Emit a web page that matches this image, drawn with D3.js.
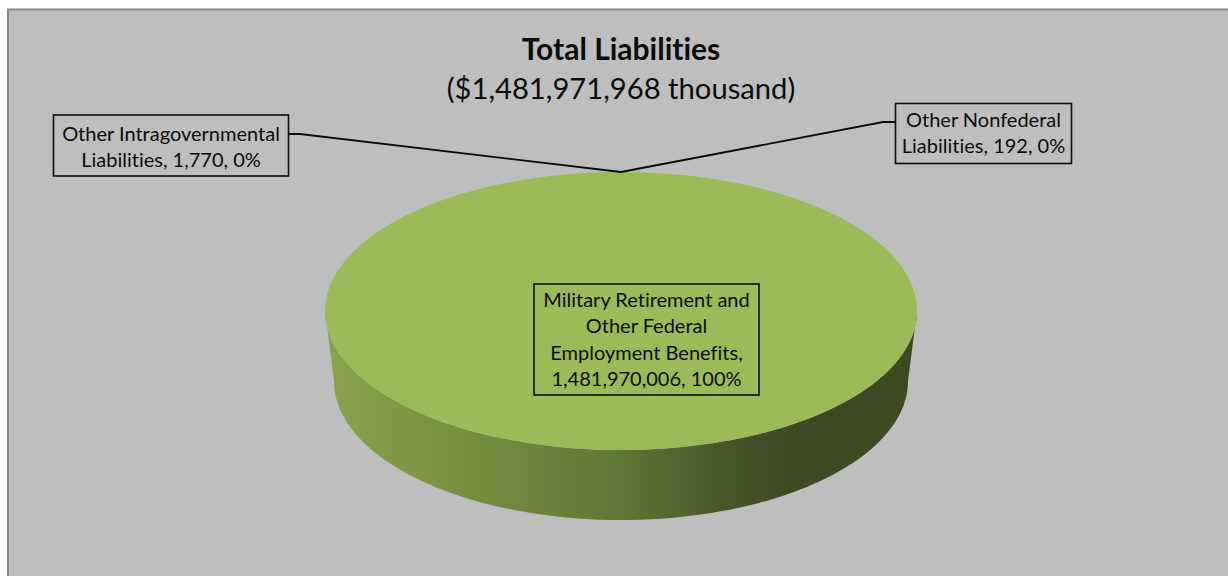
<!DOCTYPE html>
<html>
<head>
	<meta charset="UTF-8">
	<title>Total Liabilities</title>
	<script src="https://cdn.jsdelivr.net/npm/d3@7"></script>
	<style>
		html, body { margin: 0; padding: 0; background: #fff; overflow: hidden; }
		text { font-family: Lato, "Open Sans", sans-serif; fill: #0c0c0c; font-variant-ligatures: none; }
	</style>
</head>
<body>
	<script>
		// data
		var categories = ['Military Retirement and Other Federal Employment Benefits', 'Other Intragovernmental Liabilities', 'Other Nonfederal Liabilities'];
		var values = [1481970006, 1770, 192];
		var labelLines = [
			['Military Retirement and', 'Other Federal', 'Employment Benefits,', '1,481,970,006, 100%'],
			['Other Intragovernmental', 'Liabilities, 1,770, 0%'],
			['Other Nonfederal', 'Liabilities, 192, 0%']
		];
		var titleText = 'Total Liabilities';
		var subtitleText = '($1,481,971,968 thousand)';

		var width = 1228, height = 576;

		// the disc is a unit circle squashed through two scales
		var x = d3.scaleLinear().domain([-1, 1]).range([325, 917]);
		var y = d3.scaleLinear().domain([-1, 1]).range([172, 450]);
		// bottom rim is a bit narrower, and lower
		var xb = d3.scaleLinear().domain([-1, 1]).range([334, 908]);
		var yb = d3.scaleLinear().domain([-1, 1]).range([242, 520]);

		var svg = d3.select('body')
			.append('svg')
			.attr('width', width)
			.attr('height', height)
			.style('display', 'block');

		// frame
		svg.append('rect')
			.attr('x', 8).attr('y', 9.5)
			.attr('width', width + 20).attr('height', height + 20)
			.attr('fill', '#bebebe')
			.attr('stroke', '#868686')
			.attr('stroke-width', 2);

		// side wall shading
		var grad = svg.append('defs').append('linearGradient')
			.attr('id', 'wall')
			.attr('gradientUnits', 'userSpaceOnUse')
			.attr('x1', x(-1)).attr('x2', x(1))
			.attr('y1', 0).attr('y2', 0);
		[[0, '#8aa34d'], [0.25, '#768e41'], [0.5, '#5f7535'], [0.72, '#424f27'], [0.8, '#3d4a24'], [1, '#3d4a24']]
			.forEach(function(s) {
				grad.append('stop').attr('offset', s[0]).attr('stop-color', s[1]);
			});

		var pie = d3.pie().sort(null).startAngle(0).endAngle(2 * Math.PI);
		var slices = pie(values);

		// side wall: front half of the top rim, then back along the bottom rim
		var front = d3.range(0, 181, 2).map(function(a) { return a * Math.PI / 180; });
		var wallPts = front.map(function(a) { return [x(Math.cos(a)), y(Math.sin(a))]; })
			.concat(front.slice().reverse().map(function(a) { return [xb(Math.cos(a)), yb(Math.sin(a))]; }));
		svg.append('path')
			.attr('d', d3.line()(wallPts) + 'Z')
			.attr('fill', 'url(#wall)');

		// top face, angles clockwise from 12 o'clock like d3.pie.
		// d3.arc loses the nearly full slice when it rounds the end points, so walk the rim
		function rim(a) {
			return [x(Math.sin(a)), y(-Math.cos(a))];
		}
		function slicePath(d) {
			var n = Math.ceil((d.endAngle - d.startAngle) * 60) + 1;
			var pts = [[x(0), y(0)]];
			for (var i = 0; i <= n; i++) {
				pts.push(rim(d.startAngle + (d.endAngle - d.startAngle) * i / n));
			}
			return d3.line()(pts) + 'Z';
		}
		svg.append('g')
			.selectAll('path')
			.data(slices)
			.join('path')
			.attr('d', slicePath)
			.attr('fill', '#9bbb59');

		// labels: box, leader, text
		var boxes = [
			{x: 534, y: 284, w: 225, h: 111, first: 302, step: 26.3},
			{x: 53.5, y: 115, w: 235, h: 61, first: 135.5, step: 26.3},
			{x: 895.5, y: 103.5, w: 176, h: 60, first: 122, step: 26.3}
		];
		var leaderEnds = [null, [300, 134], [883, 122]];

		slices.forEach(function(d, i) {
			var b = boxes[i];
			if (leaderEnds[i]) {
				var side = i === 1 ? b.x + b.w : b.x;
				svg.append('path')
					.attr('d', d3.line()([[side, leaderEnds[i][1]], leaderEnds[i], rim((d.startAngle + d.endAngle) / 2)]))
					.attr('fill', 'none')
					.attr('stroke', '#0c0c0c')
					.attr('stroke-width', 1.8);
			}
			svg.append('rect')
				.attr('x', b.x).attr('y', b.y)
				.attr('width', b.w).attr('height', b.h)
				.attr('fill', 'none')
				.attr('stroke', '#0c0c0c')
				.attr('stroke-width', 1.6);
			labelLines[i].forEach(function(line, j) {
				svg.append('text')
					.attr('x', b.x + b.w / 2)
					.attr('y', b.first + j * b.step)
					.attr('text-anchor', 'middle')
					.attr('dominant-baseline', 'middle')
					.style('font-size', '20px')
					.text(line);
			});
		});

		// title
		svg.append('text')
			.attr('x', 621).attr('y', 60)
			.attr('text-anchor', 'middle')
			.style('font-size', '30px')
			.style('font-weight', 'bold')
			.text(titleText);
		svg.append('text')
			.attr('x', 621).attr('y', 99)
			.attr('text-anchor', 'middle')
			.style('font-size', '29.2px')
			.text(subtitleText);
	</script>
</body>
</html>
